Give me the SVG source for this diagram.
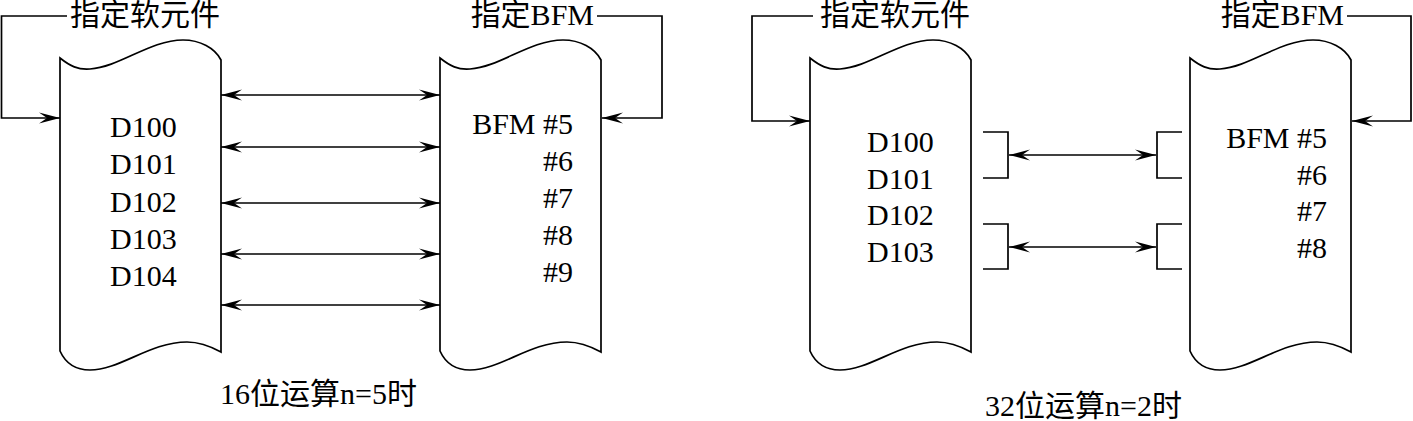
<svg xmlns="http://www.w3.org/2000/svg" width="1413" height="421" viewBox="0 0 1413 421">
<style>
.t{font-family:"Liberation Serif","Noto Sans CJK SC",serif;font-size:30px;fill:#000}
.n{fill:#fff;stroke:#000;stroke-width:1.7}
.c{fill:none;stroke:#000;stroke-width:1.7}
.a{marker-end:url(#ah)}
.d{marker-start:url(#ah);marker-end:url(#ah)}
</style>
<defs>
<marker id="ah" viewBox="-22 -6 23 12" refX="0" refY="0" markerWidth="23" markerHeight="12" markerUnits="userSpaceOnUse" orient="auto-start-reverse">
<path d="M0,0 L-21,-5.5 L-13,0 L-21,5.5 Z" fill="#000"/>
</marker>
<path id="doc" d="M0,0 C10,8 18,12 30,11 C60,9 90,-18 123,-18 C140,-18 155,-10 161,2 L161,294 C150,288 140,284 127,284 C90,284 60,312 30,312 C15,312 5,304 0,293 Z"/>
</defs>

<g id="left-device">
<use href="#doc" x="60" y="58" class="n"/>
<text class="t" x="110" y="137">D100</text>
<text class="t" x="110" y="174">D101</text>
<text class="t" x="110" y="212">D102</text>
<text class="t" x="110" y="249">D103</text>
<text class="t" x="110" y="286">D104</text>
</g>
<g id="left-bfm">
<use href="#doc" x="440" y="58" class="n"/>
<text class="t" x="573" y="134" text-anchor="end">BFM #5</text>
<text class="t" x="573" y="171" text-anchor="end">#6</text>
<text class="t" x="573" y="208" text-anchor="end">#7</text>
<text class="t" x="573" y="245" text-anchor="end">#8</text>
<text class="t" x="573" y="282" text-anchor="end">#9</text>
</g>
<g id="right-device">
<use href="#doc" x="810" y="58" class="n"/>
<text class="t" x="867" y="152">D100</text>
<text class="t" x="867" y="189">D101</text>
<text class="t" x="867" y="225">D102</text>
<text class="t" x="867" y="262">D103</text>
</g>
<g id="right-bfm">
<use href="#doc" x="1190" y="58" class="n"/>
<text class="t" x="1327" y="148" text-anchor="end">BFM #5</text>
<text class="t" x="1327" y="185" text-anchor="end">#6</text>
<text class="t" x="1327" y="221" text-anchor="end">#7</text>
<text class="t" x="1327" y="258" text-anchor="end">#8</text>
</g>
<g id="labels">
<text class="t" x="70" y="25">指定软元件</text>
<text class="t" x="594" y="25" text-anchor="end">指定BFM</text>
<text class="t" x="820" y="25">指定软元件</text>
<text class="t" x="1344" y="25" text-anchor="end">指定BFM</text>
<text class="t" x="220" y="404">16位运算n=5时</text>
<text class="t" x="985" y="416">32位运算n=2时</text>
</g>
<g id="connectors">
<path class="c a" d="M67,16 H1.5 V118 H60"/>
<path class="c a" d="M597,16 H662 V118 H602"/>
<path class="c a" d="M813,16 H752 V121 H810"/>
<path class="c a" d="M1347,16 H1411 V121 H1352"/>
<path class="c d" d="M221,95 H440"/>
<path class="c d" d="M221,147 H440"/>
<path class="c d" d="M221,203 H440"/>
<path class="c d" d="M221,254 H440"/>
<path class="c d" d="M221,305 H440"/>
<path class="c" d="M983,132 H1008 V178 H983"/>
<path class="c" d="M1182,132 H1157 V178 H1182"/>
<path class="c" d="M983,224 H1008 V269 H983"/>
<path class="c" d="M1182,224 H1157 V269 H1182"/>
<path class="c d" d="M1009,155 H1156"/>
<path class="c d" d="M1009,247 H1156"/>
</g>
</svg>
